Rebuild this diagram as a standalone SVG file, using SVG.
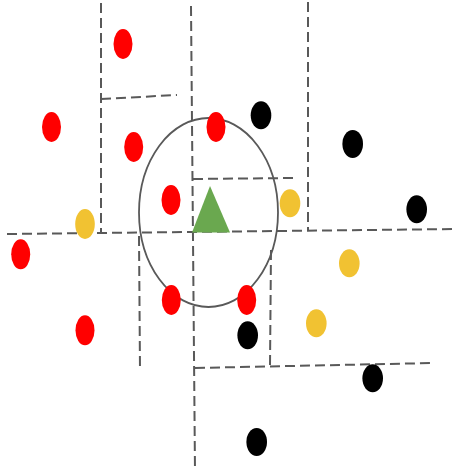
<svg xmlns="http://www.w3.org/2000/svg" width="456" height="475" viewBox="0 0 456 475">
<style>
.d{stroke:#595959;stroke-width:2;stroke-dasharray:10 5;fill:none}
.r{fill:#FF0000}
.y{fill:#F1C232}
.k{fill:#000000}
</style>
<rect width="456" height="475" fill="#ffffff"/>
<g id="connectors">
<line class="d" x1="101" y1="3" x2="101" y2="232"/>
<line class="d" x1="101" y1="99" x2="177" y2="95"/>
<line class="d" x1="191" y1="6" x2="195" y2="471"/>
<line class="d" x1="308" y1="2" x2="308" y2="230"/>
<line class="d" x1="7" y1="234" x2="456" y2="229"/>
<line class="d" x1="193" y1="179" x2="293" y2="178"/>
<line class="d" x1="139" y1="236" x2="140" y2="370"/>
<line class="d" x1="195" y1="368" x2="433" y2="363"/>
<line class="d" x1="271" y1="250" x2="270" y2="366"/>
</g>
<g id="boundary"><ellipse cx="208.5" cy="212.5" rx="69.5" ry="94.5" fill="none" stroke="#595959" stroke-width="1.8"/></g>
<g id="query"><polygon points="210,186 192,232.5 230,232.5" fill="#6AA84F"/></g>
<g id="r1"><ellipse class="r" cx="123" cy="44" rx="9.5" ry="15"/></g>
<g id="r2"><ellipse class="r" cx="51.5" cy="127" rx="9.5" ry="15"/></g>
<g id="r3"><ellipse class="r" cx="133.7" cy="147" rx="9.5" ry="15"/></g>
<g id="r4"><ellipse class="r" cx="171" cy="200" rx="9.5" ry="15"/></g>
<g id="r5"><ellipse class="r" cx="216" cy="127" rx="9.5" ry="15"/></g>
<g id="r6"><ellipse class="r" cx="20.7" cy="254.3" rx="9.5" ry="15"/></g>
<g id="r7"><ellipse class="r" cx="85" cy="330.3" rx="9.5" ry="15"/></g>
<g id="r8"><ellipse class="r" cx="171.3" cy="300" rx="9.5" ry="15"/></g>
<g id="r9"><ellipse class="r" cx="246.7" cy="300" rx="9.5" ry="15"/></g>
<g id="y1"><ellipse class="y" cx="85" cy="224" rx="9.8" ry="15"/></g>
<g id="y2"><ellipse class="y" cx="290" cy="203.3" rx="10.3" ry="14"/></g>
<g id="y3"><ellipse class="y" cx="349.3" cy="263.3" rx="10.3" ry="14"/></g>
<g id="y4"><ellipse class="y" cx="316.3" cy="323.3" rx="10.3" ry="14"/></g>
<g id="k1"><ellipse class="k" cx="261" cy="115.3" rx="10.3" ry="14"/></g>
<g id="k2"><ellipse class="k" cx="352.7" cy="144" rx="10.3" ry="14"/></g>
<g id="k3"><ellipse class="k" cx="416.7" cy="209.3" rx="10.3" ry="14"/></g>
<g id="k4"><ellipse class="k" cx="247.7" cy="335.3" rx="10.3" ry="14"/></g>
<g id="k5"><ellipse class="k" cx="372.7" cy="378.3" rx="10.3" ry="14"/></g>
<g id="k6"><ellipse class="k" cx="256.7" cy="442" rx="10.3" ry="14"/></g>
</svg>
